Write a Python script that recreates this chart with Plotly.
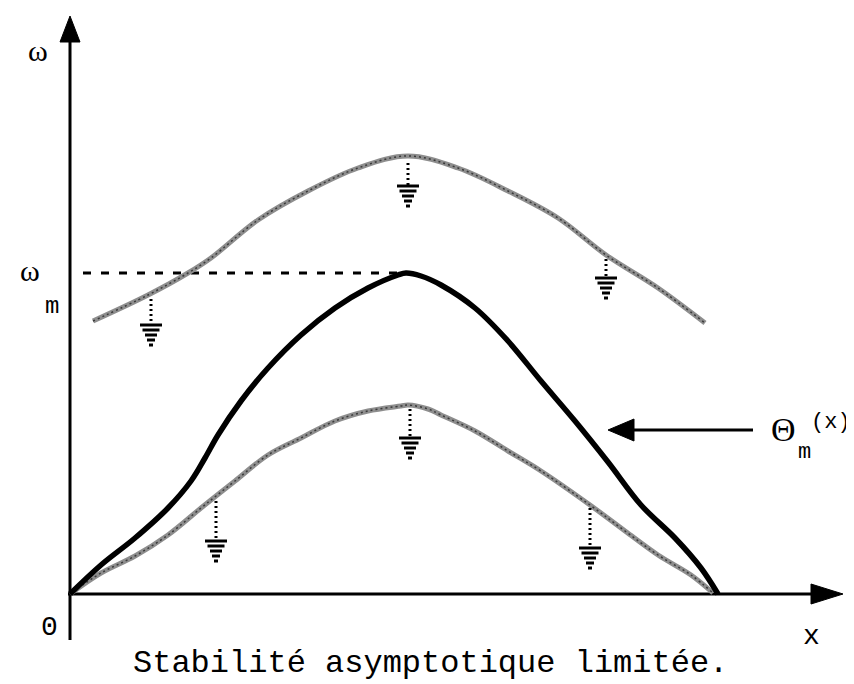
import plotly.graph_objects as go

# ---- data (units: origin at axes crossing) ----
# Θm(x): thick black curve
theta_x = [0, 31, 65, 98, 121, 135, 148, 171, 198, 231, 265, 298, 328, 336, 351, 371, 405, 438, 471, 505, 538, 571, 605, 631, 648]
theta_y = [0, 29, 56, 86, 113, 136, 159, 193, 226, 259, 286, 306, 319, 321, 318, 309, 286, 253, 213, 173, 132, 89, 56, 26, 0]

# upper grey curve
upper_x = [23, 78, 118, 141, 188, 238, 288, 338, 388, 438, 488, 536, 588, 635]
upper_y = [273, 299, 321, 336, 374, 403, 426, 438, 426, 403, 376, 339, 306, 271]

# lower grey curve
lower_x = [0, 31, 65, 98, 131, 146, 165, 198, 231, 265, 298, 331, 338, 358, 371, 405, 438, 471, 520, 555, 588, 621, 643]
lower_y = [0, 21, 38, 59, 86, 98, 113, 139, 156, 173, 183, 188, 189, 185, 179, 163, 143, 123, 89, 63, 39, 19, 1]

# ground symbols (x, start on curve, top of bars)
ground_x = [81, 338, 536, 146, 340, 520]
ground_from = [298, 434, 338, 96, 188, 89]
ground_to = [269, 408, 316, 53, 156, 46]

omega_m = 321
x_axis_end = 773
y_axis_end = 578
theta_arrow_y = 164
theta_arrow_tip = 538
theta_arrow_tail = 683

fig = go.Figure()

GREY = "#8e8e8e"

# axes
fig.add_trace(go.Scatter(x=[0, 0], y=[-46, y_axis_end - 24], mode="lines",
                         line=dict(color="black", width=3), hoverinfo="skip"))
fig.add_trace(go.Scatter(x=[-10, 10, 0, -10], y=[y_axis_end - 26, y_axis_end - 26, y_axis_end, y_axis_end - 26],
                         mode="lines", fill="toself", fillcolor="black",
                         line=dict(color="black", width=1), hoverinfo="skip"))
fig.add_trace(go.Scatter(x=[-2, x_axis_end - 28], y=[0, 0], mode="lines",
                         line=dict(color="black", width=3), hoverinfo="skip"))
fig.add_trace(go.Scatter(x=[x_axis_end - 32, x_axis_end - 32, x_axis_end, x_axis_end - 32], y=[-10, 10, 0, -10],
                         mode="lines", fill="toself", fillcolor="black",
                         line=dict(color="black", width=1), hoverinfo="skip"))

# dashed omega_m line
fig.add_trace(go.Scatter(x=[13, theta_x[13]], y=[omega_m, omega_m], mode="lines",
                         line=dict(color="black", width=3, dash="8px,10px"), hoverinfo="skip"))

# grey curves
for xs, ys in ((upper_x, upper_y), (lower_x, lower_y)):
    fig.add_trace(go.Scatter(x=xs, y=ys, mode="lines", line=dict(color=GREY, width=5, shape="spline"),
                             hoverinfo="skip"))
    fig.add_trace(go.Scatter(x=xs, y=ys, mode="lines",
                             line=dict(color="#3a3a3a", width=1.5, shape="spline", dash="2px,3px"),
                             hoverinfo="skip"))

# black curve
fig.add_trace(go.Scatter(x=theta_x, y=theta_y, mode="lines",
                         line=dict(color="black", width=5.5, shape="spline"), hoverinfo="skip"))

# ground symbols
bar_w = [22, 17, 12, 8, 4]
dx, dy, bx, by = [], [], [], []
for gx, gf, gt in zip(ground_x, ground_from, ground_to):
    dx += [gx, gx, None]
    dy += [gf - 3, gt, None]
    for i, w in enumerate(bar_w):
        bx += [gx - w / 2, gx + w / 2, None]
        by += [gt - 5 * i, gt - 5 * i, None]
fig.add_trace(go.Scatter(x=dx, y=dy, mode="lines", line=dict(color="black", width=3, dash="2px,3px"),
                         hoverinfo="skip"))
fig.add_trace(go.Scatter(x=bx, y=by, mode="lines", line=dict(color="black", width=3), hoverinfo="skip"))

# Θm arrow
fig.add_trace(go.Scatter(x=[theta_arrow_tip + 20, theta_arrow_tail], y=[theta_arrow_y, theta_arrow_y],
                         mode="lines", line=dict(color="black", width=3), hoverinfo="skip"))
fig.add_trace(go.Scatter(x=[theta_arrow_tip + 26, theta_arrow_tip + 26, theta_arrow_tip, theta_arrow_tip + 26],
                         y=[theta_arrow_y - 11, theta_arrow_y + 11, theta_arrow_y, theta_arrow_y - 11],
                         mode="lines", fill="toself", fillcolor="black",
                         line=dict(color="black", width=1), hoverinfo="skip"))

SERIF = "Liberation Serif"
MONO = "Liberation Mono"
ann = [
    dict(x=-32, y=544, text="ω", font=dict(family=SERIF, size=30)),
    dict(x=-40, y=324, text="ω", font=dict(family=SERIF, size=30)),
    dict(x=-18, y=288, text="m", font=dict(family=MONO, size=24)),
    dict(x=-21, y=-33, text="0", font=dict(family=MONO, size=28)),
    dict(x=741, y=-42, text="x", font=dict(family=MONO, size=28)),
    dict(x=713, y=165, text="Θ", font=dict(family=SERIF, size=34)),
    dict(x=734, y=142, text="m", font=dict(family=MONO, size=22)),
    dict(x=783, y=172, text="(x)", font=dict(family=MONO, size=22), xanchor="right"),
    dict(x=360, y=-69, text="Stabilité asymptotique limitée.", font=dict(family=MONO, size=32)),
]
for a in ann:
    a.setdefault("xanchor", "center")
    a.update(showarrow=False, xref="x", yref="y", yanchor="middle")
    a["font"]["color"] = "black"

fig.update_layout(
    width=854, height=684, margin=dict(l=0, r=0, t=0, b=0),
    paper_bgcolor="white", plot_bgcolor="white", showlegend=False,
    xaxis=dict(range=[-62, 792], visible=False, fixedrange=True),
    yaxis=dict(range=[-98, 586], visible=False, fixedrange=True),
    annotations=ann,
)
fig.write_html("out.html")
